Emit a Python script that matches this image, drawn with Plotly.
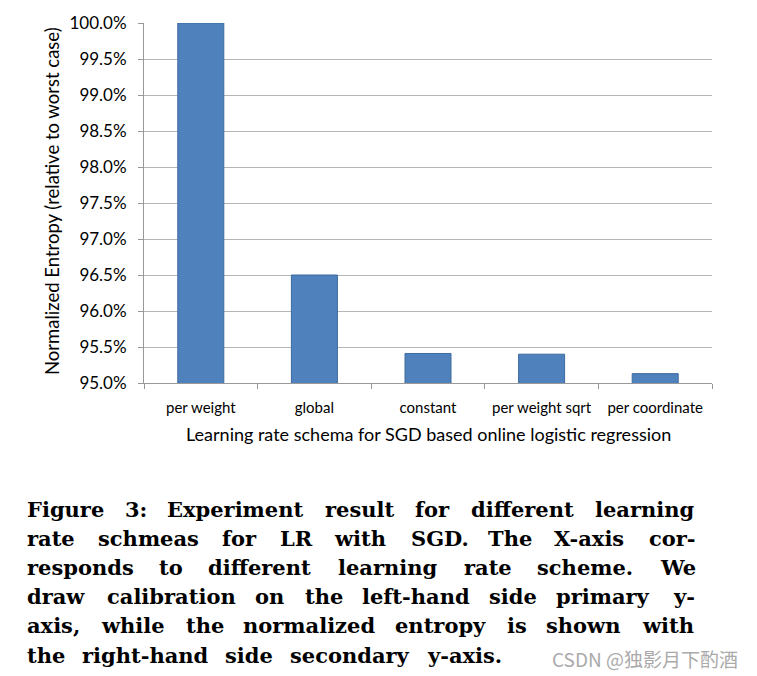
import plotly.graph_objects as go

schemes = ["per weight", "global", "constant", "per weight sqrt", "per coordinate"]
entropy = [1.0, 0.965, 0.9541, 0.9540, 0.9513]
y_ticks = [0.95, 0.955, 0.96, 0.965, 0.97, 0.975, 0.98, 0.985, 0.99, 0.995, 1.0]

caption_lines = [
    "Figure 3: Experiment result for different learning",
    "rate schmeas for LR with SGD. The X-axis cor-",
    "responds to different learning rate scheme. We",
    "draw calibration on the left-hand side primary y-",
    "axis, while the normalized entropy is shown with",
    "the right-hand side secondary y-axis.",
]
watermark = "CSDN @独影月下酌酒"

# the page body has an 8px margin, so the figure sits 8px in from the corner
PAGE_PAD = 8
PLOT_L, PLOT_R, PLOT_T, PLOT_B = 144, 712, 23, 383   # plot box in window pixels

# rough advance widths (em) of DejaVu Serif Bold, used to justify the caption
CHAR_W = {
    "a": .675, "b": .76, "c": .667, "d": .76, "e": .678, "f": .471, "g": .76,
    "h": .806, "i": .42, "l": .42, "m": 1.197, "n": .806, "o": .707, "p": .76,
    "r": .615, "s": .595, "t": .478, "u": .806, "w": 1.058, "x": .764,
    "y": .73, "z": .604, "E": .73, "F": .712, "G": .831, "D": .83, "L": .701,
    "R": .83, "S": .72, "T": .732, "W": 1.14, "X": .808, "3": .696, ":": .4,
    ".": .38, ",": .38, "-": .415,
}
CAP_SIZE = 21
CAP_LEFT, CAP_RIGHT = 25, 693
LAST_RIGHT = 502


def word_width(word):
    return sum(CHAR_W.get(ch, .7) for ch in word) * 0.918 * CAP_SIZE


fig = go.Figure(
    data=go.Bar(
        x=schemes,
        y=entropy,
        marker=dict(color="#4F81BD", line=dict(color="#3C6A9E", width=1)),
    )
)

fig.update_layout(
    width=757 - PAGE_PAD,
    height=676 - PAGE_PAD,
    margin=dict(l=PLOT_L - PAGE_PAD, r=757 - PLOT_R, t=PLOT_T - PAGE_PAD,
                b=676 - PLOT_B, autoexpand=False),
    paper_bgcolor="white",
    plot_bgcolor="white",
    bargap=0.595,
    showlegend=False,
    font=dict(family="Lato", size=15, color="black"),
)

fig.update_xaxes(
    automargin=False,
    showline=True, linecolor="#999999", linewidth=1,
    ticks="outside", tickson="boundaries", ticklen=5, tickcolor="#999999",
    ticklabelstandoff=11,
    tickfont=dict(size=15),
    showgrid=False,
)
fig.update_yaxes(
    automargin=False,
    range=[0.95, 1.0],
    tickvals=y_ticks,
    tickformat=".1%",
    showline=True, linecolor="#999999", linewidth=1,
    ticks="outside", ticklen=5, tickcolor="#999999",
    ticklabelstandoff=8,
    tickfont=dict(size=17),
    showgrid=True, gridcolor="#b5b5b5", gridwidth=1,
)

# axis titles
fig.add_annotation(
    text="Normalized Entropy (relative to worst case)",
    xref="paper", yref="paper", x=0, y=0.5, xshift=52 - PLOT_L, yshift=2,
    xanchor="center", yanchor="middle",
    textangle=-90, showarrow=False, font=dict(size=18.5),
)
fig.add_annotation(
    text="Learning rate schema for SGD based online logistic regression",
    xref="paper", yref="paper", x=0.5, y=0, yshift=-(434 - PLOT_B),
    xanchor="center", yanchor="middle",
    showarrow=False, font=dict(size=18),
)

# figure caption, justified word by word
for i, line in enumerate(caption_lines):
    words = line.split(" ")
    widths = [word_width(w) for w in words]
    right = LAST_RIGHT if i == len(caption_lines) - 1 else CAP_RIGHT
    gap = (right - CAP_LEFT - sum(widths)) / (len(words) - 1)
    px = CAP_LEFT
    for word, w in zip(words, widths):
        fig.add_annotation(
            text="<b>" + word + "</b>",
            xref="paper", yref="paper", x=0, y=0, xshift=px - PLOT_L,
            yshift=-(509.5 + 29.1 * i - PLOT_B),
            xanchor="left", yanchor="middle", showarrow=False,
            font=dict(family="DejaVu Serif", size=CAP_SIZE, color="black"),
        )
        px += w + gap

fig.add_annotation(
    text=watermark,
    xref="paper", yref="paper", x=1, y=0, xshift=740 - PLOT_R,
    yshift=-(658 - PLOT_B),
    xanchor="right", yanchor="middle", showarrow=False,
    font=dict(family="Noto Sans CJK SC", size=19, color="#aaaaaa"),
)

fig.write_html("out.html")
